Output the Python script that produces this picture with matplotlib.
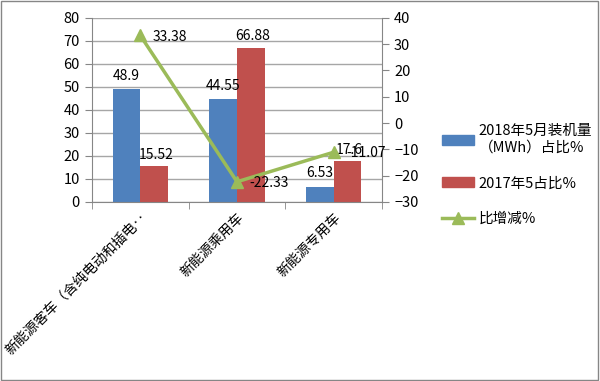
import matplotlib
matplotlib.use("Agg")
import numpy as np
import matplotlib.pyplot as plt
from matplotlib.patches import Patch, Rectangle
from matplotlib.lines import Line2D

plt.rcParams['font.family'] = ['Noto Sans CJK SC', 'DejaVu Sans']

categories = ["新能源客车（含纯电动和插电‥", "新能源乘用车", "新能源专用车"]
share_2018 = [48.9, 44.55, 6.53]
share_2017 = [15.52, 66.88, 17.6]
change = [33.38, -22.33, -11.07]

blue = "#4F81BD"
red = "#C0504D"
green = "#9BBB59"

fig = plt.figure(figsize=(6, 3.81), dpi=100)
ax = fig.add_axes([0.153, 0.47, 0.484, 0.483])
ax2 = ax.twinx()

x = np.arange(len(categories))
w = 0.285
ax.bar(x - w / 2, share_2018, w, color=blue, zorder=2)
ax.bar(x + w / 2, share_2017, w, color=red, zorder=2)
for xi, v in zip(x, share_2018):
    ax.text(xi - w / 2, v + 3, f"{v:g}", ha="center", va="bottom", fontsize=10)
for xi, v in zip(x, share_2017):
    ax.text(xi + w / 2 + 0.02, v + 2, f"{v:g}", ha="center", va="bottom", fontsize=10)

ax2.plot(x, change, color=green, lw=2.5, marker="^", markersize=9, zorder=3)
for xi, v in zip(x, change):
    ax2.text(xi + 0.13, v - 0.5, f"{v:g}", ha="left", va="center", fontsize=10)

ax.set_xlim(-0.5, 2.5)
ax.set_ylim(0, 80)
ax.set_yticks(range(0, 81, 10))
ax2.set_ylim(-30, 40)
ax2.set_yticks(range(-30, 41, 10))
ax.yaxis.grid(True, color="#A6A6A6", lw=1, zorder=0)
ax.set_axisbelow(True)

ax.set_xticks(x)
ax.set_xticklabels(categories, rotation=45, ha="right", va="top",
                   rotation_mode="anchor", fontsize=10)
ax.tick_params(axis="x", length=0, pad=6)
ax.set_xticks([-0.5, 0.5, 1.5, 2.5], minor=True)
ax.tick_params(axis="x", which="minor", length=5, color="#868686")
for a in (ax, ax2):
    for s in a.spines.values():
        s.set_visible(False)
    a.tick_params(axis="y", labelsize=10.5, length=5, color="#868686")
ax.spines["left"].set_visible(True)
ax.spines["left"].set_color("#868686")
ax.spines["bottom"].set_visible(True)
ax.spines["bottom"].set_color("#868686")
ax2.spines["right"].set_visible(True)
ax2.spines["right"].set_color("#868686")

handles = [Patch(color=blue), Patch(color=red),
           Line2D([0], [0], color=green, lw=2.5, marker="^", markersize=8)]
labels = ["2018年5月装机量\n（MWh）占比%", "2017年5占比%", "比增减%"]
fig.legend(handles, labels, loc="center left", bbox_to_anchor=(0.715, 0.54),
           frameon=False, fontsize=10.5, handlelength=2.2, handleheight=0.7,
           labelspacing=1.5, handletextpad=0.3)

fig.add_artist(Rectangle((0.002, 0.003), 0.995, 0.994, transform=fig.transFigure,
                         fill=False, edgecolor="#868686", lw=1))

fig.savefig("out.png", dpi=100)
